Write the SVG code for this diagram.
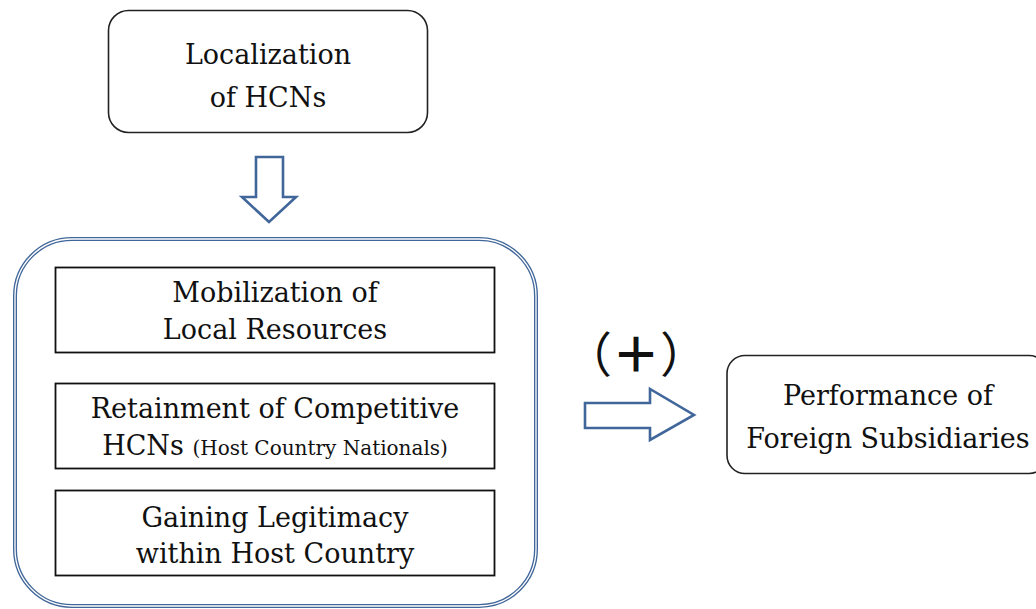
<svg xmlns="http://www.w3.org/2000/svg" width="1036" height="609" viewBox="0 0 1036 609">
  <style>
    .lbl { font-family: "DejaVu Serif", "Liberation Serif", serif; font-size: 27px; fill: #111; text-anchor: middle; }
    .small { font-size: 20px; }
    .rbox { fill: #fff; stroke: #222; stroke-width: 1.6; }
    .sbox { fill: #fff; stroke: #111; stroke-width: 1.8; }
    .blk { fill: #fff; stroke: #41679a; stroke-width: 2.6; stroke-linejoin: miter; }
    .sign { font-family: "Noto Sans CJK JP", sans-serif; font-size: 48px; fill: #111; text-anchor: middle; }
  </style>
  <rect width="1036" height="609" fill="#fff"/>

  <g id="localization">
    <rect class="rbox" x="108.5" y="10.5" width="319" height="122" rx="20"/>
    <text class="lbl" x="268" y="64">Localization</text>
    <text class="lbl" x="268" y="107">of HCNs</text>
  </g>

  <g id="mechanisms">
    <!-- double-lined container -->
    <rect x="15" y="239" width="521" height="367" rx="57" fill="none" stroke="#41679a" stroke-width="4"/>
    <rect x="15" y="239" width="521" height="367" rx="57" fill="none" stroke="#fff" stroke-width="1.3"/>
  </g>

  <g id="mobilization">
    <rect class="sbox" x="55.5" y="267.5" width="439" height="85"/>
    <text class="lbl" x="275" y="302">Mobilization of</text>
    <text class="lbl" x="275" y="339">Local Resources</text>
  </g>

  <g id="retainment">
    <rect class="sbox" x="55.5" y="383.5" width="439" height="85"/>
    <text class="lbl" x="275" y="418">Retainment of Competitive</text>
    <text class="lbl" x="275" y="455">HCNs <tspan class="small">(Host Country Nationals)</tspan></text>
  </g>

  <g id="legitimacy">
    <rect class="sbox" x="55.5" y="490.5" width="439" height="85"/>
    <text class="lbl" x="275" y="527">Gaining Legitimacy</text>
    <text class="lbl" x="275" y="563">within Host Country</text>
  </g>

  <g id="performance">
    <rect class="rbox" x="727" y="355.5" width="320" height="118" rx="18"/>
    <text class="lbl" x="888" y="405">Performance of</text>
    <text class="lbl" x="888" y="448">Foreign Subsidiaries</text>
  </g>

  <g id="connectors">
    <polygon class="blk" points="256,157 283,157 283,197 296,197 269,222 242,197 256,197"/>
    <polygon class="blk" points="585,403 650,403 650,389 694,415 650,440 650,428 585,428"/>
    <text class="sign" x="636" y="372">（<tspan font-weight="700">＋</tspan>）</text>
  </g>
</svg>
